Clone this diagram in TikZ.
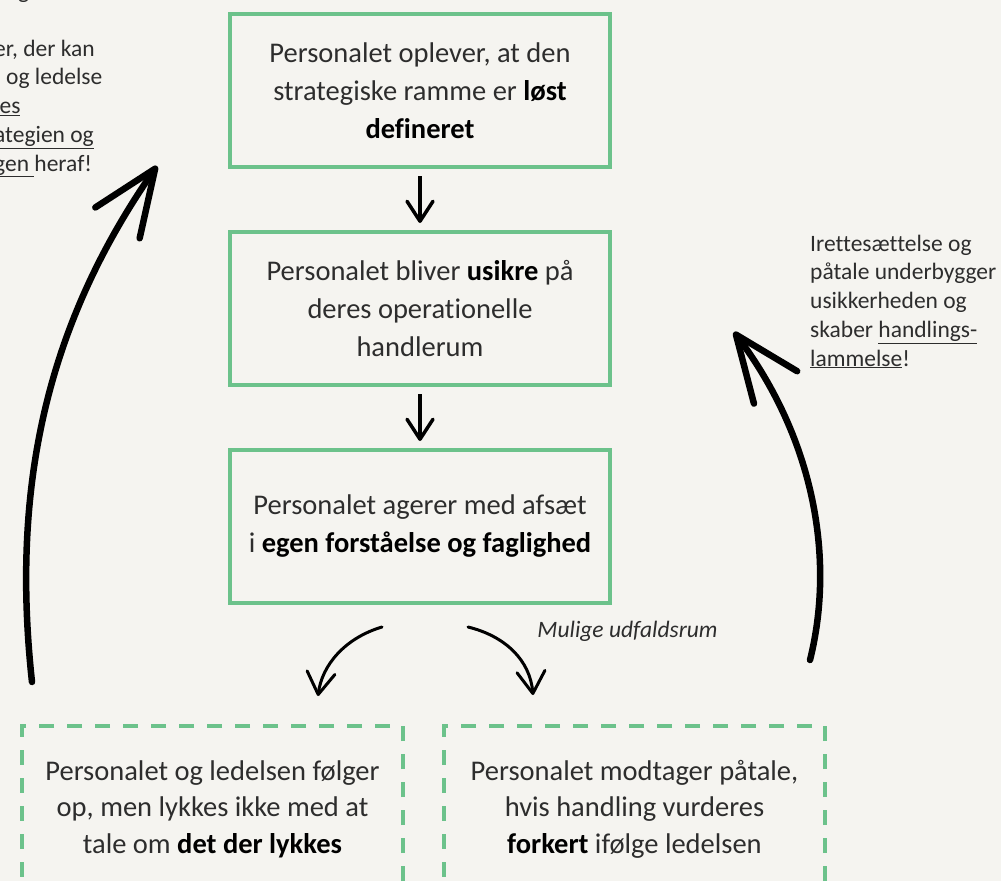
\documentclass[tikz,border=0pt]{standalone}
\usepackage{fontspec}
\setmainfont{Carlito}[Ligatures=NoCommon]
\usepackage{tikz}
\usetikzlibrary{positioning}
\usetikzlibrary{arrows.meta}
\definecolor{baggrund}{RGB}{245,244,240}
\definecolor{rammegroen}{RGB}{108,194,139}
\definecolor{tekstgraa}{RGB}{45,45,45}
\newcommand{\fremhaev}[1]{\textbf{\color{black}#1}}

\begin{document}
\begin{tikzpicture}[
    x=1pt, y=-1pt,
    node distance=61pt,
    fastboks/.style={rectangle, draw=rammegroen, line width=4pt, minimum width=380pt, minimum height=153pt, align=center, text=tekstgraa, font=\fontsize{28.5}{38}\selectfont},
    udfaldboks/.style={fastboks, dash pattern=on 15pt off 13pt, minimum width=381pt, minimum height=166pt, font=\fontsize{28.5}{36.5}\selectfont},
    sidetekst/.style={align=left, inner sep=0pt, text=tekstgraa, font=\fontsize{23.5}{28.7}\selectfont},
    pil/.style={-{Straight Barb[length=20pt,width=26pt,round]}, line width=3.5pt, shorten <=7pt, shorten >=7pt},
    kurvepil/.style={-{Straight Barb[length=22pt,width=28pt,round]}, line width=3pt, line cap=round},
    storpil/.style={-{Straight Barb[length=66pt,width=54pt,round]}, line width=6.5pt, line cap=round}
]
\useasboundingbox (0,0) rectangle (1001,881);
\fill[baggrund] (0,0) rectangle (1001,881);
\clip (0,0) rectangle (1001,881);

% Forløbet
\node[fastboks] (fase1) at (420,90.5) {Personalet oplever, at den\\strategiske ramme er \fremhaev{løst}\\\fremhaev{defineret}};
\node[fastboks, below=of fase1] (fase2) {Personalet bliver \fremhaev{usikre} på\\deres operationelle\\handlerum};
\node[fastboks, below=of fase2] (fase3) {Personalet agerer med afsæt\\i \fremhaev{egen forståelse og faglighed}};

% Udfaldsrum
\node[udfaldboks, below=119pt of fase3, xshift=-207.5pt] (udfald1) {Personalet og ledelsen følger\\op, men lykkes ikke med at\\tale om \fremhaev{det der lykkes}};
\node[udfaldboks, below=119pt of fase3, xshift=214.5pt] (udfald2) {Personalet modtager påtale,\\hvis handling vurderes\\\fremhaev{forkert} ifølge ledelsen};
\node[anchor=base, text=tekstgraa, font=\itshape\fontsize{23.5}{28}\selectfont] (udfaldtekst) at (627.5,637) {Mulige udfaldsrum};

% Sidetekster
\node[sidetekst, anchor=base west] (venstretekst) at (-6,171) {negative\\[28.7pt]er, der kan\\\hspace*{12pt}og ledelse\\\underline{les}\\\underline{ategien og}\\\underline{gen\ }heraf!};
\node[sidetekst, anchor=base west] (hoejretekst) at (810,366) {Irettesættelse og\\påtale underbygger\\usikkerheden og\\skaber \underline{handlings-}\\\underline{lammelse}!};

% Pile
\draw[pil] (fase1) -- (fase2);
\draw[pil] (fase2) -- (fase3);

\coordinate (v1start) at ([xshift=-38pt, yshift=-22pt]fase3.south);
\coordinate (v1slut) at ([xshift=105.5pt, yshift=28pt]udfald1.north);
\coordinate (h1start) at ([xshift=48pt, yshift=-22pt]fase3.south);
\coordinate (h1slut) at ([xshift=-101.5pt, yshift=29pt]udfald2.north);
\draw[kurvepil] (v1start) .. controls (345,638) and (322,665) .. (v1slut);
\draw[kurvepil] (h1start) .. controls (505,636) and (530,660) .. (h1slut);

\coordinate (venstrebund) at (32,682);
\coordinate (venstretop) at (157,166);
\coordinate (hoejrebund) at (810,660);
\coordinate (hoejretop) at (734,332);
\draw[storpil] (venstrebund) .. controls (10,480) and (50,320) .. (venstretop);
\draw[storpil] (hoejrebund) .. controls (835,560) and (815,440) .. (hoejretop);

\end{tikzpicture}
\end{document}
